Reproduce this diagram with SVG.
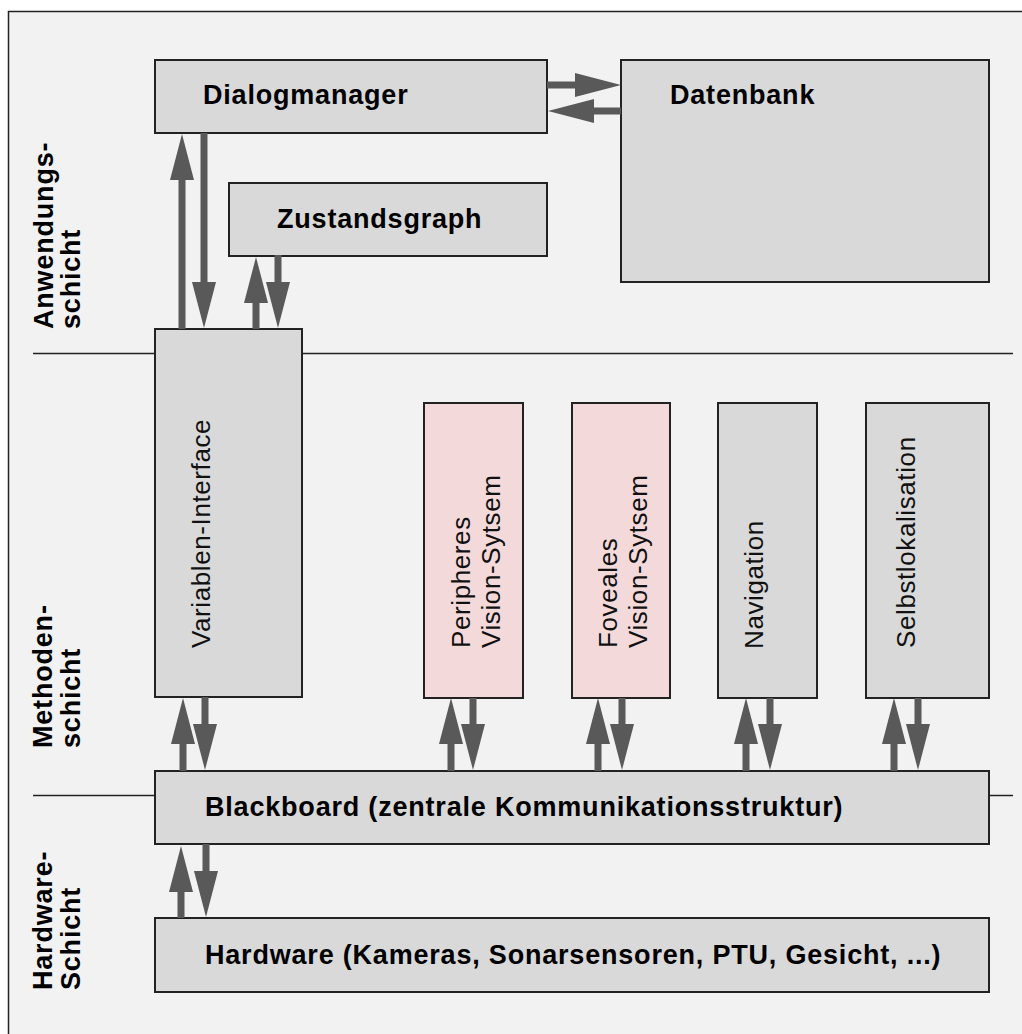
<svg xmlns="http://www.w3.org/2000/svg" width="1022" height="1034" viewBox="0 0 1022 1034">
  <style>
    .box { fill: #d9d9d9; stroke: #222; stroke-width: 2; }
    .pink { fill: #f4d9db; stroke: #222; stroke-width: 2; }
    .sep { stroke: #222; stroke-width: 1.5; fill: none; }
    .bold { font-family: "Liberation Sans", Arial, sans-serif; font-weight: bold; font-size: 27px; letter-spacing: 0.8px; fill: #000; }
    .reg { font-family: "Liberation Sans", Arial, sans-serif; font-size: 26px; letter-spacing: 0.6px; fill: #111; }
    .arr { stroke: #595959; stroke-width: 7; fill: none; marker-end: url(#head); }
  </style>
  <defs>
    <marker id="head" markerUnits="userSpaceOnUse" markerWidth="46" markerHeight="24" viewBox="0 0 46 24" refX="0" refY="12" orient="auto">
      <path d="M0,0 L46,12 L0,24 Z" fill="#595959"/>
    </marker>
  </defs>

  <!-- page and frame -->
  <rect x="0" y="0" width="1022" height="1034" fill="#ffffff"/>
  <rect x="8.5" y="11.5" width="1030" height="1040" fill="#f2f2f2" stroke="#222" stroke-width="1.5"/>

  <!-- layer separators -->
  <line class="sep" x1="33" y1="353.5" x2="1013" y2="353.5"/>
  <line class="sep" x1="33" y1="795.5" x2="1013" y2="795.5"/>

  <!-- layer labels -->
  <g id="layer-labels" class="bold">
    <text transform="translate(53,329) rotate(-90)">Anwendungs-</text>
    <text transform="translate(80,329) rotate(-90)">schicht</text>
    <text transform="translate(52,748) rotate(-90)">Methoden-</text>
    <text transform="translate(80,748) rotate(-90)">schicht</text>
    <text transform="translate(52,990) rotate(-90)">Hardware-</text>
    <text transform="translate(80,990) rotate(-90)">Schicht</text>
  </g>

  <!-- application layer -->
  <g id="dialogmanager">
    <rect class="box" x="155" y="60" width="392" height="73"/>
    <text class="bold" x="203" y="104">Dialogmanager</text>
  </g>
  <g id="datenbank">
    <rect class="box" x="621" y="60" width="368" height="222"/>
    <text class="bold" x="670" y="104">Datenbank</text>
  </g>
  <g id="zustandsgraph">
    <rect class="box" x="229" y="183" width="318" height="73"/>
    <text class="bold" x="277" y="228">Zustandsgraph</text>
  </g>

  <!-- method layer -->
  <g id="variablen-interface">
    <rect class="box" x="155" y="329" width="147" height="368"/>
    <text class="reg" transform="translate(210,648) rotate(-90)">Variablen-Interface</text>
  </g>
  <g id="peripheres-vision">
    <rect class="pink" x="424" y="403" width="99" height="295"/>
    <text class="reg" transform="translate(470,648) rotate(-90)">Peripheres</text>
    <text class="reg" transform="translate(500,648) rotate(-90)">Vision-Sytsem</text>
  </g>
  <g id="foveales-vision">
    <rect class="pink" x="572" y="403" width="98" height="295"/>
    <text class="reg" transform="translate(617,648) rotate(-90)">Foveales</text>
    <text class="reg" transform="translate(647,648) rotate(-90)">Vision-Sytsem</text>
  </g>
  <g id="navigation">
    <rect class="box" x="718" y="403" width="99" height="295"/>
    <text class="reg" transform="translate(763,649) rotate(-90)">Navigation</text>
  </g>
  <g id="selbstlokalisation">
    <rect class="box" x="866" y="403" width="123" height="295"/>
    <text class="reg" transform="translate(915,648) rotate(-90)">Selbstlokalisation</text>
  </g>
  <g id="blackboard">
    <rect class="box" x="155" y="771" width="834" height="73"/>
    <text class="bold" x="205" y="816">Blackboard (zentrale Kommunikationsstruktur)</text>
  </g>

  <!-- hardware layer -->
  <g id="hardware">
    <rect class="box" x="155" y="918" width="834" height="74"/>
    <text class="bold" x="205" y="964">Hardware (Kameras, Sonarsensoren, PTU, Gesicht, ...)</text>
  </g>

  <!-- connectors: each line ends at the base of its arrow head -->
  <g id="connectors">
    <line class="arr" x1="182" y1="329" x2="182" y2="180"/>
    <line class="arr" x1="204" y1="133" x2="204" y2="282"/>
    <line class="arr" x1="256" y1="329" x2="256" y2="303"/>
    <line class="arr" x1="278" y1="255" x2="278" y2="282"/>
    <line class="arr" x1="547" y1="85" x2="575" y2="85"/>
    <line class="arr" x1="621" y1="111" x2="594" y2="111"/>

    <line class="arr" x1="183" y1="771" x2="183" y2="744"/>
    <line class="arr" x1="205" y1="697" x2="205" y2="724"/>
    <line class="arr" x1="451" y1="771" x2="451" y2="744"/>
    <line class="arr" x1="473" y1="698" x2="473" y2="724"/>
    <line class="arr" x1="598" y1="771" x2="598" y2="744"/>
    <line class="arr" x1="622" y1="698" x2="622" y2="724"/>
    <line class="arr" x1="746" y1="771" x2="746" y2="744"/>
    <line class="arr" x1="770" y1="698" x2="770" y2="724"/>
    <line class="arr" x1="894" y1="771" x2="894" y2="744"/>
    <line class="arr" x1="918" y1="698" x2="918" y2="724"/>

    <line class="arr" x1="181" y1="918" x2="181" y2="892"/>
    <line class="arr" x1="206" y1="844" x2="206" y2="871"/>
  </g>
</svg>
